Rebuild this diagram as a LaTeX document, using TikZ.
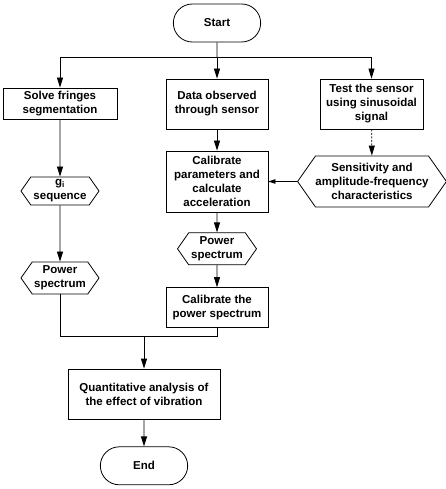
\documentclass[tikz,border=0pt]{standalone}
\usepackage{fontspec}
\setmainfont{Liberation Sans}
\usetikzlibrary{positioning, arrows.meta, shapes.misc, shapes.symbols}

\begin{document}
\begin{tikzpicture}[
		x=1pt, y=1pt,
		>={Triangle[length=10pt, width=6pt]},
		font=\bfseries\fontsize{11.5}{14}\selectfont,
		line width=0.8pt,
		procbox/.style={draw, rectangle, align=center, inner sep=1pt},
		termbox/.style={draw, rounded rectangle, minimum width=94pt, minimum height=38pt},
		databox/.style={draw, signal, signal to=east and west, signal pointer angle=110, align=center, inner sep=0pt}
		]
		
		\useasboundingbox (0,0) rectangle (446,-489);
		
		% ==========================================
		% Top: start and the three branches
		% ==========================================
		\node (start) [termbox] at (217,-23) {Start};
		\coordinate (split) at (217,-57);
		
		\node (solve) [procbox, minimum width=114pt, minimum height=31pt] at (60,-103.5) {Solve fringes\\segmentation};
		\node (data) [procbox, minimum width=102pt, minimum height=50pt] at (217,-104) {Data observed\\through sensor};
		\node (test) [procbox, minimum width=103pt, minimum height=50pt] at (371.5,-104) {Test the sensor\\using sinusoidal\\signal};
		
		\draw (start) -- (split);
		\draw (split -| solve) -- (split -| test);
		\draw[->] (split -| solve) -- (solve);
		\draw[->] (split) -- (data);
		\draw[->] (split -| test) -- (test);
		
		% ==========================================
		% Middle: calibration
		% ==========================================
		\node (sens) [databox, minimum width=139pt, minimum height=51pt] at (372,-181.5) {Sensitivity and\\amplitude-frequency\\characteristics};
		\node (calib) [procbox, minimum width=102pt, minimum height=61pt] at (217,-181.5) {Calibrate\\parameters and\\calculate\\acceleration};
		\node (pow2) [databox, minimum width=79pt, minimum height=32pt, below=20pt of calib] {Power\\spectrum};
		\node (calpow) [procbox, minimum width=102pt, minimum height=40pt, below=22pt of pow2] {Calibrate the\\power spectrum};
		
		\draw[->, dashed, dash pattern=on 2pt off 1.5pt] (test) -- (sens);
		\draw[-{Triangle[length=7pt, width=4.5pt]}] (sens) -- (calib);
		\draw[->] (data) -- (calib);
		\draw[->] (calib) -- (pow2);
		\draw[->] (pow2) -- (calpow);
		
		% ==========================================
		% Left: fringes
		% ==========================================
		\node (gseq) [databox, minimum width=78pt, minimum height=28pt] at (60,-191) {g\textsubscript{i}\\sequence};
		\node (powL) [databox, minimum width=78pt, minimum height=32pt] at (60,-278) {Power\\spectrum};
		
		\draw[->] (solve) -- (gseq);
		\draw[->] (gseq) -- (powL);
		
		% ==========================================
		% Bottom: analysis and end
		% ==========================================
		\coordinate (merge) at (144,-336);
		\node (quant) [procbox, minimum width=152pt, minimum height=50pt] at (144,-394) {Quantitative analysis of\\the effect of vibration};
		\node (end) [termbox, below=27pt of quant] {End};
		
		\draw (powL) -- (powL |- merge) -- (calpow |- merge) -- (calpow);
		\draw[->] (merge) -- (quant);
		\draw[->] (quant) -- (end);
		
	\end{tikzpicture}
\end{document}
